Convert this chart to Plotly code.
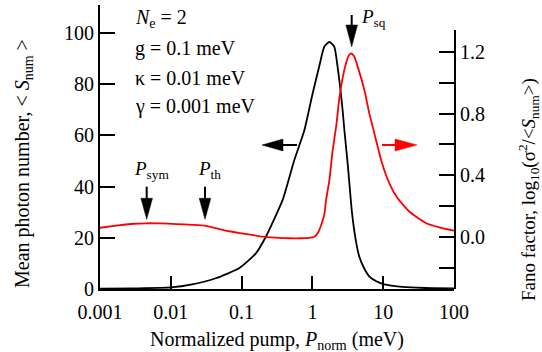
import plotly.graph_objects as go

# ---- data ----
p_black = [0.001, 0.003, 0.01, 0.02, 0.043, 0.092, 0.159, 0.22, 0.38, 0.55, 0.77, 1.0, 1.25,
           1.47, 1.74, 2.04, 2.27, 2.67, 2.83, 3.15, 3.63, 4.1, 4.6, 5.4, 6.4, 8.0, 9.8, 13, 17, 30, 50, 100]
s_black = [0.1, 0.25, 0.6, 1.8, 4.2, 8.1, 13.9, 20.4, 34.8, 50, 62, 76, 87,
           94.6, 96.5, 94.6, 86.8, 70, 62, 49, 29.6, 19, 12.6, 8, 4.8, 3.0, 2.0, 1.3, 0.9, 0.5, 0.3, 0.2]

p_red = [0.001, 0.0018, 0.003, 0.0045, 0.007, 0.012, 0.02, 0.03, 0.05, 0.074, 0.12, 0.198, 0.3, 0.47,
         0.7, 0.9, 1.05, 1.15, 1.25, 1.38, 1.48, 1.56, 1.74, 1.93, 2.17, 2.4, 2.67, 3.0, 3.3, 3.55, 3.9,
         4.36, 5.42, 6.38, 7.5, 9.34, 12.2, 16, 23.5, 40.5, 62, 100]
f_red = [0.06, 0.075, 0.086, 0.089, 0.088, 0.084, 0.079, 0.074, 0.05, 0.034, 0.018, 0.002, -0.004, -0.008,
         -0.008, -0.005, 0.0, 0.015, 0.045, 0.1, 0.15, 0.24, 0.37, 0.56, 0.72, 0.9, 1.03, 1.13, 1.18, 1.19, 1.17,
         1.105, 0.953, 0.80, 0.672, 0.50, 0.348, 0.251, 0.164, 0.089, 0.063, 0.041]

x_ticks = [0.001, 0.01, 0.1, 1, 10, 100]
x_ticktext = ["0.001", "0.01", "0.1", "1", "10", "100"]
y_ticks = [0, 20, 40, 60, 80, 100]
y2_ticks = [0.0, 0.4, 0.8, 1.2]
y2_ticktext = ["0.0", "0.4", "0.8", "1.2"]
y2_minor_ticks = [-0.2, 0.2, 0.6, 1.0]

FONT = "Liberation Serif, Times New Roman, serif"
W, H = 542, 352
L, R, T, B = 100, 454, 5, 289


def fx(px):
    return (px - L) / (R - L)


def fy(py):
    return (B - py) / (B - T)


fig = go.Figure()
fig.add_trace(go.Scatter(x=p_black, y=s_black, mode="lines",
                         line=dict(color="black", width=1.8, shape="spline", smoothing=0.5),
                         xaxis="x", yaxis="y", showlegend=False))
fig.add_trace(go.Scatter(x=p_red, y=f_red, mode="lines",
                         line=dict(color="#ff0000", width=1.8, shape="spline", smoothing=0.5),
                         xaxis="x", yaxis="y2", showlegend=False))

shapes = []
annotations = []


def down_arrow(px, y0, y1, tip):
    shapes.append(dict(type="line", xref="paper", yref="paper", x0=fx(px), x1=fx(px), y0=fy(y0), y1=fy(y1 + 1),
                       line=dict(color="black", width=2)))
    shapes.append(dict(type="path", xref="paper", yref="paper",
                       path=f"M {fx(px-5.8)} {fy(y1)} L {fx(px+5.8)} {fy(y1)} L {fx(px)} {fy(tip)} Z",
                       fillcolor="black", line=dict(color="black", width=0.5)))


def h_arrow(x_shaft_end, x_base, x_tip, py, color):
    shapes.append(dict(type="line", xref="paper", yref="paper", x0=fx(x_shaft_end), x1=fx(x_base), y0=fy(py), y1=fy(py),
                       line=dict(color=color, width=2)))
    shapes.append(dict(type="path", xref="paper", yref="paper",
                       path=f"M {fx(x_base)} {fy(py-6)} L {fx(x_base)} {fy(py+6)} L {fx(x_tip)} {fy(py)} Z",
                       fillcolor=color, line=dict(color=color, width=0.5)))


down_arrow(351.7, 15, 25, 46.7)
down_arrow(146.7, 186.7, 198.3, 219.3)
down_arrow(205.0, 186.7, 198.3, 219.3)
h_arrow(297, 283, 262, 145, "black")
h_arrow(382, 395, 417, 145, "#ff0000")


def text(px, py, s, size=20, angle=0, xanchor="left"):
    annotations.append(dict(xref="paper", yref="paper", x=fx(px), y=fy(py), text=s, showarrow=False,
                            xanchor=xanchor, yanchor="middle", textangle=angle,
                            font=dict(family=FONT, size=size, color="black")))


text(133, 18, "<i>N</i><sub>e</sub> = 2")
text(133, 48, "g = 0.1 meV")
text(133, 78, "κ = 0.01 meV")
text(133, 107, "γ = 0.001 meV")
text(359, 18, "<i>P</i><sub>sq</sub>", size=19)
text(132, 170, "<i>P</i><sub>sym</sub>", size=19)
text(196, 170, "<i>P</i><sub>th</sub>", size=19)

text(23, 164, "Mean photon number, &lt; <i>S</i><sub>num</sub> &gt;", angle=-90, xanchor="center")
text(528, 190, "Fano factor, log<sub>10</sub>(σ<sup>2</sup>/&lt;<i>S</i><sub>num</sub>&gt;)", size=19, angle=-90,
     xanchor="center")
text(277, 340, "Normalized pump, <i>P</i><sub>norm</sub> (meV)", xanchor="center")

axis_common = dict(showline=True, linecolor="black", linewidth=2, ticks="inside", tickcolor="black", tickwidth=2,
                   showgrid=False, zeroline=False, tickfont=dict(family=FONT, size=20, color="black"))

fig.update_layout(
    width=W, height=H,
    margin=dict(l=L, r=W - R, t=T, b=H - B, pad=0),
    paper_bgcolor="white", plot_bgcolor="rgba(0,0,0,0)",
    font=dict(family=FONT, size=20, color="black"),
    xaxis=dict(type="log", range=[-3, 2], tickvals=x_ticks, ticktext=x_ticktext, ticklen=13,
               ticklabelstandoff=4, anchor="y", **axis_common),
    yaxis=dict(range=[0, (B - T) / 2.56], tickvals=y_ticks, ticklen=15, anchor="x", domain=[0, 1], **axis_common),
    yaxis2=dict(range=[-(B - 237) / 154.2, (237 - 30) / 154.2], tickvals=y2_ticks, ticktext=y2_ticktext, ticklen=15,
                minor=dict(tickvals=y2_minor_ticks, ticks="inside", ticklen=15, tickwidth=2, tickcolor="black"),
                anchor="x", side="right", domain=[0, (B - 30) / (B - T)], **axis_common),
    shapes=shapes,
    annotations=annotations,
)

fig.write_html("out.html", config={"displayModeBar": False},
               post_script="document.body.style.margin='0';document.body.style.overflow='hidden';")
